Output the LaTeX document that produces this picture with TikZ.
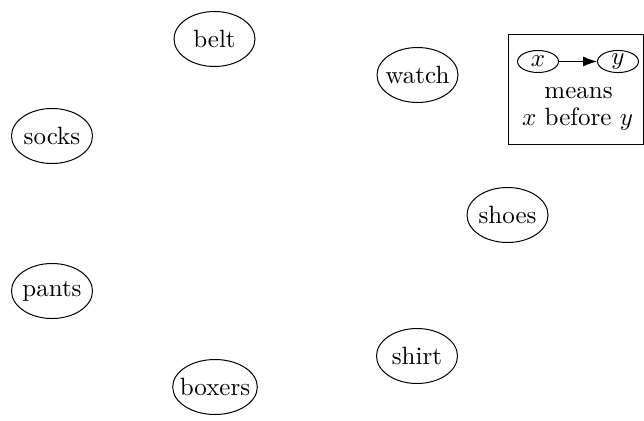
\documentclass[tikz,border=0pt]{standalone}
\usetikzlibrary{shapes.geometric,arrows.meta}
\begin{document}
\begin{tikzpicture}[x=0.4pt,y=-0.4pt,
  item/.style={draw,ellipse,inner xsep=-2.1pt,inner ysep=0pt,minimum width=32.4pt,minimum height=22pt},
  var/.style={draw,ellipse,inner sep=0pt,minimum width=16.4pt,minimum height=8.8pt},
  legendbox/.style={draw,minimum width=54pt,minimum height=44pt,inner sep=0pt},
  txt/.style={inner sep=0pt,anchor=base}]
\useasboundingbox (0,0) rectangle (644,420);
\node[item] (belt)   at (214.5,39)  {belt};
\node[item] (watch)  at (417.5,75)  {watch};
\node[item] (socks)  at (52,136)    {socks};
\node[item] (shoes)  at (507.5,215) {shoes};
\node[item] (pants)  at (52,291)    {pants};
\node[item] (shirt)  at (417,356)   {shirt};
\node[item] (boxers) at (215,387)   {boxers};
\node[legendbox] (legend) at (576,89) {};
\node[var] (x) at (538,61.5) {$x$};
\node[var] (y) at (618,61.5) {$y$};
\draw[-{Latex[length=5.6pt,width=4pt]}] (x) -- (y);
\node[txt] (means) at (578.5,98) {means};
\node[txt] (before) at (577.5,125) {$x$ before $y$};
\end{tikzpicture}
\end{document}
